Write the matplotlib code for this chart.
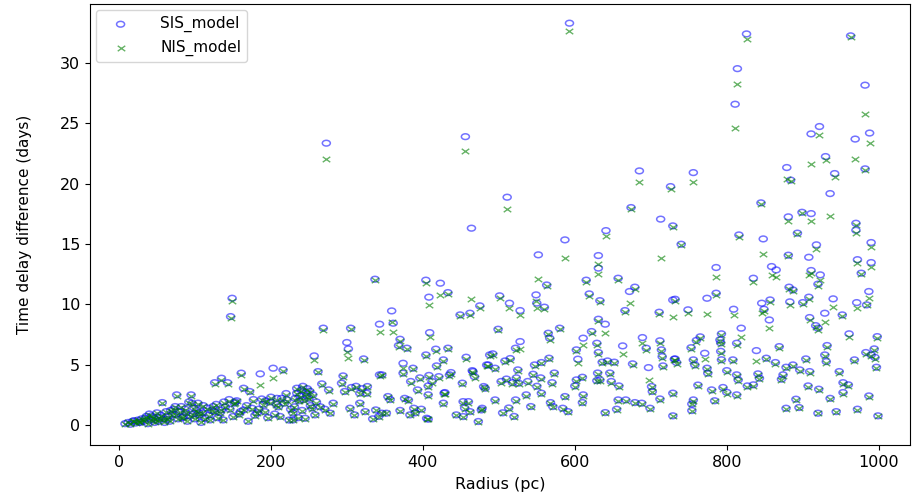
import matplotlib
matplotlib.use("Agg")
import matplotlib.pyplot as plt
from matplotlib.markers import MarkerStyle
from matplotlib.transforms import Affine2D

# ── Dados: raio (pc), atraso SIS e NIS (dias) ─────────────────────────────

raio = [
    8, 12, 15, 18, 22, 25, 28, 30, 33, 36, 38, 40, 42, 45, 47, 50, 52, 55, 57, 58,
    60, 62, 65, 67, 70, 72, 74, 76, 78, 80, 82, 85, 88, 90, 92, 95, 96, 98, 100, 102,
    104, 106, 108, 110, 113, 116, 120,
    124, 126, 126, 130, 135, 135, 137, 138, 143, 145, 147, 149, 150, 152, 155, 158, 161, 164,
    164, 170, 172, 175, 179, 182, 186, 188, 190, 193, 196, 199, 203, 205, 208, 210, 212, 216,
    218, 221, 224, 229, 229, 231, 234, 234, 236, 238, 240, 241, 243, 245, 246, 248, 250, 252,
    255, 257, 258, 260,
    262, 265, 267, 269, 271, 273, 276, 278, 282, 293, 295, 297, 300, 302, 304, 305, 306, 310,
    312, 317, 317, 320, 322, 324, 326, 327, 334, 337, 338, 342, 343, 343, 346, 346, 352, 354,
    357, 359, 361, 368, 370, 370, 374, 374, 376, 379, 381, 383, 384, 387, 388, 390, 393, 396,
    398,
    404, 404, 405, 407, 407, 407, 408, 408, 409, 412, 417, 418, 421, 423, 427, 427, 428, 429,
    433, 433, 435, 437, 444, 449, 452, 453, 453, 455, 456, 457, 460, 462, 462, 464, 465, 466,
    468, 473, 475, 477, 478, 480, 482, 484, 486, 488, 492, 495, 495, 499,
    501, 503, 505, 508, 510, 511, 513, 514, 515, 518, 520, 522, 522, 523, 525, 526, 528, 528,
    536, 538, 542, 545, 547, 549, 550, 550, 552, 555, 556, 556, 560, 563, 565, 566, 567, 568,
    570, 571, 573, 580, 584, 587, 587, 591, 593,
    600, 602, 602, 604, 610, 610, 611, 611, 615, 619, 622, 629, 629, 630, 631, 631, 631, 631,
    633, 633, 636, 640, 640, 641, 643, 646, 648, 652, 655, 657, 657, 658, 663, 666, 667, 672,
    674, 676, 679, 679, 685, 688, 689, 694, 697, 699,
    701, 702, 711, 712, 712, 713, 714, 715, 716, 726, 729, 729, 729, 729, 731, 732, 732, 734,
    740, 749, 753, 754, 754, 756, 756, 756, 758, 760, 762, 765, 771, 774, 774, 775, 780, 784,
    786, 786, 791, 792, 792, 793, 793, 795, 800, 800,
    808, 809, 811, 813, 813, 813, 814, 815, 816, 819, 826, 827, 835, 835, 839, 841, 843, 845,
    846, 848, 849, 852, 856, 857, 859, 864, 865, 869, 872, 874, 878, 878, 879, 881, 881, 882,
    883, 884, 887, 887, 891, 893, 895, 896, 899,
    900, 904, 907, 908, 908, 909, 909, 911, 911, 911, 917, 918, 920, 920, 920, 921, 922, 923,
    929, 929, 930, 931, 932, 936, 936, 940, 942, 944, 948, 952, 953, 953, 960, 961, 963, 968,
    969, 970, 970, 971, 972, 972, 977, 982, 982, 983, 984, 987, 987, 988, 990, 990, 990, 994,
    995, 997, 998, 999,
    # aglomerado denso perto da origem
    20, 27, 35, 43, 48, 53, 63, 68, 75, 83, 87, 93, 99, 105, 111, 118, 122, 128, 133, 140,
    146, 153, 160, 168, 177, 184, 192, 200, 207, 214, 220, 226, 232, 237, 242, 247, 251, 254,
]

atraso_sis = [
    0.1, 0.2, 0.05, 0.3, 0.15, 0.4, 0.2, 0.5, 0.3, 0.7, 0.1, 0.9, 0.4, 0.6, 0.2, 1.0, 0.3, 0.8, 1.85, 0.5,
    0.2, 1.1, 0.7, 0.3, 0.9, 1.3, 1.52, 2.49, 0.5, 1.1, 1.52, 0.7, 1.0, 0.3, 1.9, 2.49, 1.8, 0.9, 0.5, 1.2,
    1.8, 0.8, 0.2, 1.0, 0.55, 1.4, 0.41,
    1.52, 1.1, 3.5, 0.6, 3.87, 1.24, 0.41, 1.9, 3.5, 2.1, 8.98, 10.5, 0.69, 1.8, 2.0, 0.9, 4.29, 3.04,
    1.24, 0.3, 2.77, 1.38, 0.8, 1.0, 4.23, 2.15, 1.7, 2.0, 0.6, 1.9, 4.7, 0.9, 2.2, 1.5, 0.7, 4.56,
    1.8, 2.07, 0.4, 0.41, 1.0, 1.5, 3.04, 2.63, 0.6, 2.4, 2.9, 1.2, 2.1, 0.55, 2.7, 3.0, 2.2, 1.6,
    2.5, 5.72, 0.83, 1.9,
    4.42, 1.5, 3.4, 8.02, 1.3, 23.36, 2.9, 0.97, 1.8, 3.46, 4.06, 2.77, 6.83, 6.3, 1.38, 8.02, 3.1, 0.83,
    3.2, 2.63, 1.8, 3.0, 5.47, 1.1, 2.63, 3.18, 0.5, 12.08, 1.24, 0.7, 4.15, 8.35, 4.15, 0.97, 0.97, 2.35,
    2.1, 9.45, 8.43, 6.58, 7.1, 1.2, 5.11, 4.29, 2.2, 6.36, 2.07, 0.83, 3.6, 4.7, 1.38, 1.0, 2.9, 3.9,
    1.3,
    12.0, 5.8, 0.55, 3.23, 2.49, 0.47, 4.1, 10.59, 7.65, 3.6, 6.28, 4.89, 4.0, 11.75, 5.39, 1.8, 2.63, 2.68,
    10.97, 6.36, 4.15, 4.34, 0.83, 9.12, 3.46, 0.69, 1.93, 1.4, 23.9, 5.61, 1.93, 9.26, 1.1, 16.31, 4.5, 4.42,
    4.0, 0.28, 9.87, 1.24, 1.38, 3.18, 3.04, 4.97, 4.97, 5.8, 5.89, 4.7, 2.07, 7.93,
    10.7, 3.6, 1.0, 5.3, 3.8, 18.88, 1.4, 10.09, 5.5, 3.5, 0.7, 6.36, 2.07, 3.9, 4.56, 3.46, 9.48, 6.91,
    2.49, 3.6, 1.52, 4.2, 4.97, 10.78, 3.2, 10.1, 14.1, 3.9, 5.17, 2.63, 9.76, 11.6, 7.6, 5.53, 7.19, 1.85,
    3.5, 1.52, 4.3, 8.02, 1.38, 15.34, 2.35, 1.1, 33.31,
    3.23, 6.22, 3.73, 5.45, 3.95, 1.85, 7.19, 2.49, 12.0, 10.86, 7.74, 6.77, 3.67, 4.3, 14.04, 13.0, 8.76, 6.0,
    10.3, 3.73, 5.2, 8.35, 1.02, 16.11, 5.3, 4.3, 3.6, 5.2, 1.3, 12.16, 2.07, 3.23, 6.55, 9.48, 2.07, 11.06,
    18.02, 5.06, 11.42, 1.85, 21.06, 1.8, 7.24, 6.36, 4.75, 1.38,
    3.18, 2.77, 9.34, 6.97, 2.15, 17.06, 6.22, 5.66, 4.89, 19.76, 16.5, 10.36, 2.63, 0.75, 5.45, 10.42, 5.47, 5.17,
    14.98, 9.54, 6.4, 1.74, 1.19, 20.92, 2.07, 5.39, 4.97, 7.0, 3.3, 7.3, 5.94, 10.5, 4.7, 4.29, 2.9, 2.0,
    13.05, 10.92, 7.05, 6.8, 6.1, 7.55, 5.4, 3.1, 4.5, 2.7,
    5.39, 9.59, 26.59, 6.77, 4.15, 2.49, 29.54, 3.73, 15.75, 8.02, 32.42, 3.23, 12.16, 3.32, 6.16, 4.23, 3.87, 18.41,
    10.09, 15.42, 9.59, 5.53, 8.7, 10.36, 13.13, 5.17, 12.85, 6.49, 3.79, 4.15, 1.38, 4.78, 21.34, 17.25, 14.07, 11.42,
    10.2, 20.3, 11.19, 4.97, 2.13, 15.9, 1.44, 4.56, 17.63,
    10.14, 5.47, 3.23, 13.9, 10.59, 4.42, 8.9, 24.13, 17.52, 12.8, 8.23, 14.93, 11.67, 8.02, 0.97, 2.96, 24.74, 12.44,
    9.26, 5.8, 22.25, 5.25, 6.58, 19.18, 2.2, 10.45, 20.84, 1.1, 4.42, 9.12, 3.5, 2.68, 3.32, 7.55, 32.26, 5.39,
    23.7, 16.72, 16.14, 10.14, 13.7, 1.3, 12.58, 21.23, 28.17, 6.0, 9.95, 11.06, 2.4, 24.2, 13.46, 15.12, 5.8, 6.3,
    5.6, 4.78, 7.32, 0.75,
    0.35, 0.25, 0.55, 0.75, 0.45, 0.65, 0.45, 1.2, 0.85, 0.6, 1.3, 0.75, 1.4, 1.0, 1.6, 0.8, 1.2, 1.7, 1.0, 1.5,
    1.3, 1.9, 1.1, 1.6, 2.1, 1.3, 1.1, 2.3, 1.7, 2.2, 2.6, 1.3, 2.2, 2.0, 3.2, 2.4, 2.8, 1.4,
]

atraso_nis = [
    0.1, 0.2, 0.05, 0.3, 0.15, 0.4, 0.2, 0.5, 0.3, 0.65, 0.1, 0.85, 0.4, 0.55, 0.2, 0.95, 0.3, 0.75, 1.8, 0.5,
    0.2, 1.05, 0.65, 0.3, 0.85, 1.25, 1.45, 2.4, 0.5, 1.05, 1.45, 0.65, 0.95, 0.3, 1.85, 2.4, 1.75, 0.85, 0.5, 1.15,
    1.7, 0.75, 0.2, 0.95, 0.5, 1.35, 0.4,
    1.45, 1.05, 3.4, 0.55, 3.75, 1.2, 0.4, 1.85, 3.4, 2.0, 8.9, 10.3, 0.65, 1.75, 1.95, 0.85, 4.15, 2.95,
    1.2, 0.3, 2.7, 1.3, 0.75, 0.95, 3.32, 2.1, 1.65, 1.95, 0.55, 1.85, 3.9, 0.85, 2.1, 1.45, 0.65, 4.45,
    1.75, 2.0, 0.4, 0.4, 0.95, 1.45, 2.95, 2.55, 0.55, 2.3, 2.8, 1.15, 2.0, 0.5, 2.6, 2.9, 2.15, 1.55,
    2.4, 5.4, 0.8, 1.85,
    4.35, 1.45, 3.3, 7.9, 1.25, 22.03, 2.8, 0.95, 1.75, 3.4, 3.95, 2.7, 6.08, 5.52, 1.3, 7.95, 3.0, 0.8,
    3.1, 2.55, 1.75, 2.9, 5.4, 1.05, 2.55, 3.1, 0.5, 12.0, 1.2, 0.65, 4.05, 7.74, 4.1, 0.95, 0.95, 2.3,
    2.05, 8.57, 7.74, 6.45, 6.93, 1.15, 4.7, 4.2, 2.15, 6.3, 2.0, 0.8, 3.5, 4.6, 1.3, 0.95, 2.8, 3.8,
    1.25,
    11.8, 5.7, 0.5, 3.15, 2.4, 0.45, 4.0, 9.95, 7.3, 3.5, 6.1, 4.8, 3.9, 10.78, 5.3, 1.75, 2.55, 2.6,
    10.85, 6.3, 4.05, 4.25, 0.8, 9.0, 3.4, 0.65, 1.85, 1.35, 22.75, 5.5, 1.85, 9.1, 1.05, 10.42, 4.4, 4.3,
    3.9, 0.25, 9.7, 1.2, 1.3, 3.1, 2.95, 4.85, 4.9, 5.7, 5.8, 4.6, 2.0, 7.85,
    10.5, 3.5, 0.95, 5.2, 3.7, 17.88, 1.35, 9.7, 5.4, 3.4, 0.65, 6.25, 2.0, 3.8, 4.45, 3.4, 9.1, 6.3,
    2.4, 3.5, 1.45, 4.1, 4.85, 10.3, 3.1, 9.7, 12.08, 3.8, 5.1, 2.55, 9.6, 11.5, 7.5, 5.45, 7.0, 1.8,
    3.4, 1.45, 4.2, 7.95, 1.3, 13.82, 2.3, 1.05, 32.7,
    3.15, 6.1, 3.65, 5.1, 3.85, 1.8, 6.6, 2.4, 11.85, 10.7, 7.65, 6.65, 3.6, 4.25, 13.35, 12.52, 8.6, 5.9,
    10.2, 3.65, 5.1, 7.6, 1.0, 15.7, 5.2, 4.25, 3.5, 5.1, 1.25, 12.05, 2.0, 3.15, 5.9, 9.4, 2.0, 10.14,
    17.9, 4.95, 11.3, 1.8, 20.15, 1.75, 6.8, 6.25, 3.73, 1.3,
    3.1, 2.7, 9.2, 6.8, 2.1, 13.82, 6.1, 5.55, 4.8, 19.6, 16.4, 8.93, 2.55, 0.7, 5.35, 10.3, 5.35, 5.05,
    14.9, 9.3, 6.3, 1.7, 1.15, 20.15, 2.0, 5.3, 4.85, 6.9, 3.2, 7.2, 5.5, 9.2, 4.6, 4.2, 2.8, 1.95,
    12.25, 10.8, 6.95, 6.7, 6.0, 7.45, 5.3, 3.0, 4.4, 2.6,
    5.3, 9.1, 24.63, 6.65, 4.05, 2.4, 28.28, 3.65, 15.6, 7.3, 32.0, 3.15, 11.85, 3.25, 5.27, 4.15, 3.8, 18.3,
    9.3, 14.15, 9.45, 5.45, 8.02, 10.2, 12.44, 5.05, 12.3, 6.4, 3.7, 4.05, 1.3, 4.7, 20.37, 16.9, 14.0, 11.3,
    9.9, 20.2, 11.1, 4.85, 2.1, 15.8, 1.4, 4.45, 17.55,
    10.0, 5.35, 3.15, 12.44, 10.45, 4.3, 8.7, 21.67, 16.89, 12.6, 8.1, 14.6, 11.55, 7.9, 0.95, 2.9, 24.02, 12.0,
    8.5, 5.7, 21.97, 5.15, 6.45, 17.3, 2.15, 9.8, 20.56, 1.05, 4.3, 9.0, 3.4, 2.6, 3.25, 7.25, 32.2, 5.3,
    22.06, 16.6, 15.9, 9.7, 13.46, 1.25, 12.5, 21.1, 25.81, 5.9, 9.9, 10.5, 2.35, 23.4, 13.1, 14.74, 5.7, 6.2,
    5.5, 4.7, 7.2, 0.7,
    0.35, 0.25, 0.5, 0.7, 0.45, 0.6, 0.45, 1.15, 0.8, 0.55, 1.25, 0.7, 1.35, 0.95, 1.55, 0.75, 1.15, 1.65, 0.95, 1.45,
    1.25, 1.85, 1.05, 1.55, 2.0, 1.25, 1.05, 2.2, 1.65, 2.1, 2.5, 1.25, 2.1, 1.95, 3.1, 2.3, 2.7, 1.35,
]

# ── Gráfico ───────────────────────────────────────────────────────────────

# a figura original foi esticada na horizontal: marcadores mais largos que altos
esticar = Affine2D().scale(1.4, 1.0)
marca_o = MarkerStyle("o", transform=esticar)
marca_x = MarkerStyle("x", transform=esticar)

fig = plt.figure(figsize=(9.14, 5.01), dpi=100)
ax = fig.add_axes([0.0985, 0.112, 0.897, 0.880])

ax.scatter(raio, atraso_sis, s=17, marker=marca_o, facecolors="none",
           edgecolors="blue", linewidths=1.1, alpha=0.55, label="SIS_model")
ax.scatter(raio, atraso_nis, s=15, marker=marca_x, color="green",
           linewidths=1.0, alpha=0.6, label="NIS_model")

ax.set_xlim(-38, 1041)
ax.set_ylim(-1.66, 34.9)
ax.set_xticks([0, 200, 400, 600, 800, 1000])
ax.set_yticks([0, 5, 10, 15, 20, 25, 30])
ax.tick_params(labelsize=11.5)

ax.set_xlabel("Radius (pc)", fontsize=11.5, labelpad=5)
ax.set_ylabel("Time delay difference (days)", fontsize=11, labelpad=20)
ax.legend(loc="upper left", fontsize=11, borderaxespad=0.4,
          handlelength=2.4, handletextpad=1.4)

plt.savefig("out.png", dpi=100)
